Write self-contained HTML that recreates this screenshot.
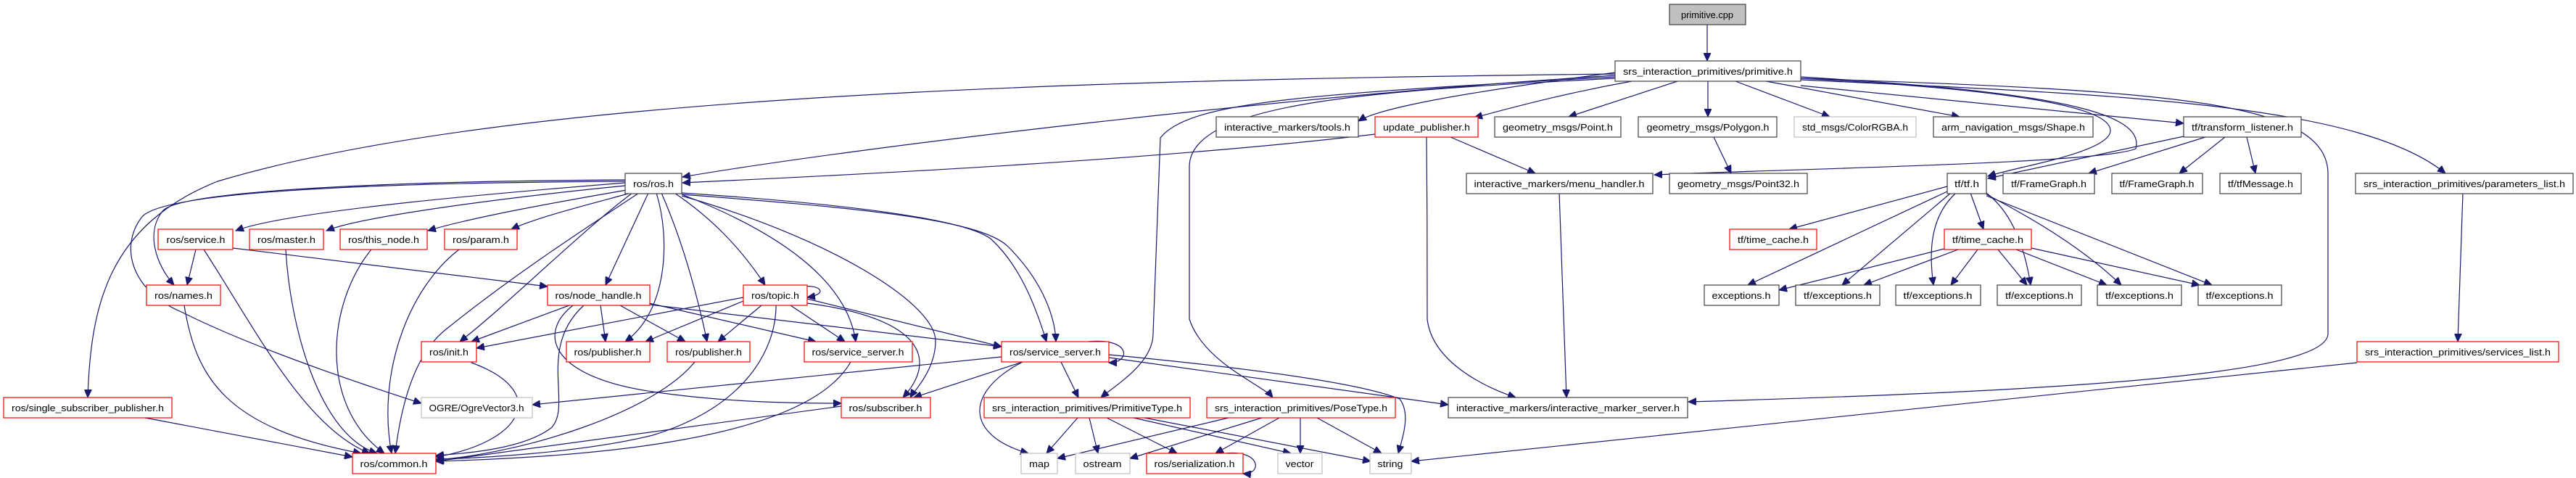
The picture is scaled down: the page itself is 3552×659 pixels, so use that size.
<!DOCTYPE html>
<html><head><meta charset="utf-8"><style>
html,body{margin:0;padding:0;background:#fff;}
svg{display:block;}
text{font-family:"Liberation Sans","DejaVu Sans",sans-serif;font-size:13px;fill:#000;}
.e{fill:none;stroke:#191970;stroke-width:1.2;}
.k{fill:#fff;stroke:#404040;stroke-width:1.2;}
.r{fill:#fff;stroke:#ff0000;stroke-width:1.2;}
.g{fill:#fff;stroke:#bfbfbf;stroke-width:1.2;}
</style></head><body>
<svg width="3552" height="659" viewBox="0 0 3552 659" xmlns="http://www.w3.org/2000/svg">
<defs><marker id="a" markerUnits="userSpaceOnUse" markerWidth="12" markerHeight="10" refX="11" refY="5" orient="auto"><path d="M0,0 L11,5 L0,10 Z" fill="#191970" stroke="#191970"/></marker></defs>
<g class="e" marker-end="url(#a)">
<path d="M2354,34 L2354,84"/>
<path d="M2227,100 C2000,130 1900,150 1873,167"/>
<path d="M2250,112 C2150,130 2080,150 2033,162"/>
<path d="M2313,112 L2163,161"/>
<path d="M2355,112 L2355,161"/>
<path d="M2393,112 L2523,161"/>
<path d="M2435,112 L2702,161"/>
<path d="M2483,118 L3011,170"/>
<path d="M2483,106 C2800,125 2960,150 2945,205 C2900,225 2500,232 2281,241"/>
<path d="M2483,108 C2800,125 2910,150 2910,180 C2910,210 2780,230 2741,243"/>
<path d="M2483,110 C2900,130 3250,140 3372,239"/>
<path d="M2483,108 C3000,125 3210,140 3210,240 L3210,460 C3210,520 2800,540 2328,554"/>
<path d="M2227,104 C1800,130 1200,200 941,244"/>
<path d="M2227,106 C1800,130 1640,140 1600,190 L1590,460 C1590,500 1540,530 1518,548"/>
<path d="M2227,108 C1900,125 1640,140 1640,230 L1640,440 C1660,500 1740,530 1755,548"/>
<path d="M2227,102 C1500,110 700,130 300,250 C150,310 125,420 121,548"/>
<path d="M1896,185 C1600,220 1200,240 941,252"/>
<path d="M2000,189 L2117,239"/>
<path d="M1967,189 C1968,260 1968,400 1968,440 C1975,500 2050,535 2090,548"/>
<path d="M2150,266 L2160,548"/>
<path d="M2363,189 L2387,239"/>
<path d="M3011,188 L2741,246"/>
<path d="M3041,189 L2880,239"/>
<path d="M3068,189 L3005,239"/>
<path d="M3098,189 L3110,239"/>
<path d="M3396,266 L3389,471"/>
<path d="M3250,500 L1946,636"/>
<path d="M2685,257 L2467,316"/>
<path d="M2685,264 L2410,393"/>
<path d="M2690,266 L2540,393"/>
<path d="M2697,266 C2660,300 2660,350 2666,393"/>
<path d="M2717,266 L2735,316"/>
<path d="M2739,266 C2770,290 2790,330 2800,393"/>
<path d="M2739,268 C2820,310 2880,350 2925,393"/>
<path d="M2739,270 L3050,393"/>
<path d="M2681,343 L2453,400"/>
<path d="M2700,344 L2570,393"/>
<path d="M2727,344 L2690,393"/>
<path d="M2755,344 L2795,393"/>
<path d="M2780,344 L2905,393"/>
<path d="M2801,342 L3033,393"/>
<path d="M862,252 C700,265 400,290 325,318"/>
<path d="M862,256 C700,272 500,298 450,318"/>
<path d="M864,262 C760,280 650,300 590,318"/>
<path d="M870,266 C800,285 740,300 705,316"/>
<path d="M862,248 C500,250 250,265 225,290 C200,320 215,365 240,393"/>
<path d="M862,250 C500,252 220,265 195,300 C165,340 180,400 250,430 C350,480 500,530 581,556"/>
<path d="M872,266 C800,320 700,420 634,471"/>
<path d="M881,266 C830,300 720,370 620,450 C600,465 560,500 545,625"/>
<path d="M894,266 L835,393"/>
<path d="M905,266 C925,330 920,430 862,471"/>
<path d="M912,266 C940,330 960,400 975,471"/>
<path d="M930,266 C980,300 1020,340 1055,393"/>
<path d="M940,268 C1100,330 1170,400 1180,471"/>
<path d="M940,270 C1150,330 1290,420 1290,470 C1290,510 1260,540 1255,548"/>
<path d="M940,266 C1150,280 1330,300 1367,330 C1410,370 1430,430 1443,471"/>
<path d="M940,268 C1160,285 1350,300 1390,340 C1440,390 1455,440 1456,471"/>
<path d="M270,344 L258,393"/>
<path d="M281,344 C350,450 420,590 510,625"/>
<path d="M321,342 L755,395"/>
<path d="M394,344 C400,450 440,600 520,625"/>
<path d="M512,344 C450,420 440,560 530,625"/>
<path d="M633,344 C560,400 520,520 540,625"/>
<path d="M254,421 C270,520 310,590 498,625"/>
<path d="M200,576 L486,630"/>
<path d="M650,500 C760,540 720,610 601,630"/>
<path d="M785,421 L650,471"/>
<path d="M828,421 L835,471"/>
<path d="M855,421 L945,471"/>
<path d="M895,418 L1125,471"/>
<path d="M790,421 C740,460 760,520 900,540 C1000,555 1100,556 1160,556"/>
<path d="M805,421 C740,480 790,560 760,590 C720,620 640,625 601,628"/>
<path d="M896,420 L1381,478"/>
<path d="M1025,410 L657,480"/>
<path d="M1025,415 L890,471"/>
<path d="M1050,421 L990,471"/>
<path d="M1090,421 L1165,471"/>
<path d="M1070,421 C1070,480 1030,560 900,600 C800,625 650,632 601,633"/>
<path d="M1113,418 C1280,440 1290,500 1245,548"/>
<path d="M1113,412 L1381,478"/>
<path d="M1100,396 C1130,390 1145,405 1113,410"/>
<path d="M958,499 C900,570 720,625 601,634"/>
<path d="M1173,499 C1110,610 800,630 601,636"/>
<path d="M1160,560 L601,636"/>
<path d="M1381,492 L734,558"/>
<path d="M1410,499 L1260,548"/>
<path d="M1410,499 C1330,540 1330,600 1418,625"/>
<path d="M1463,499 L1487,548"/>
<path d="M1529,489 C1750,510 1880,530 1930,550 C1945,570 1935,600 1928,625"/>
<path d="M1529,493 L1997,558"/>
<path d="M1500,471 C1560,465 1560,500 1529,500"/>
<path d="M1486,576 L1443,625"/>
<path d="M1502,576 L1514,625"/>
<path d="M1526,576 L1623,625"/>
<path d="M1563,576 L1780,625"/>
<path d="M1578,576 L1890,636"/>
<path d="M1694,576 L1458,632"/>
<path d="M1740,576 L1558,632"/>
<path d="M1764,576 L1676,625"/>
<path d="M1793,576 L1793,625"/>
<path d="M1816,576 L1905,625"/>
<path d="M1690,625 C1740,620 1740,655 1714,653"/>
</g>
<g>
<rect x="2302" y="6" width="105" height="28" fill="#bfbfbf" stroke="#404040" stroke-width="1.2"/>
<rect class="k" x="2227" y="84" width="256" height="28"/>
<rect class="k" x="1677" y="161" width="196" height="28"/>
<rect class="r" x="1896" y="161" width="142" height="28"/>
<rect class="k" x="2061" y="161" width="174" height="28"/>
<rect class="k" x="2259" y="161" width="191" height="28"/>
<rect class="g" x="2474" y="161" width="168" height="28"/>
<rect class="k" x="2666" y="161" width="220" height="28"/>
<rect class="k" x="3011" y="161" width="162" height="28"/>
<rect class="k" x="862" y="239" width="78" height="28"/>
<rect class="k" x="2022" y="239" width="257" height="28"/>
<rect class="k" x="2302" y="239" width="190" height="28"/>
<rect class="k" x="2685" y="239" width="54" height="28"/>
<rect class="k" x="2762" y="239" width="126" height="28"/>
<rect class="k" x="2912" y="239" width="125" height="28"/>
<rect class="k" x="3061" y="239" width="112" height="28"/>
<rect class="k" x="3248" y="239" width="300" height="28"/>
<rect class="r" x="218" y="316" width="103" height="28"/>
<rect class="r" x="344" y="316" width="102" height="28"/>
<rect class="r" x="469" y="316" width="120" height="28"/>
<rect class="r" x="613" y="316" width="100" height="28"/>
<rect class="r" x="2385" y="316" width="120" height="28"/>
<rect class="r" x="2681" y="316" width="120" height="28"/>
<rect class="r" x="202" y="393" width="102" height="28"/>
<rect class="r" x="755" y="393" width="141" height="28"/>
<rect class="r" x="1025" y="393" width="88" height="28"/>
<rect class="k" x="2350" y="393" width="103" height="28"/>
<rect class="k" x="2476" y="393" width="116" height="28"/>
<rect class="k" x="2614" y="393" width="117" height="28"/>
<rect class="k" x="2754" y="393" width="116" height="28"/>
<rect class="k" x="2892" y="393" width="116" height="28"/>
<rect class="k" x="3031" y="393" width="115" height="28"/>
<rect class="r" x="581" y="471" width="76" height="28"/>
<rect class="r" x="781" y="471" width="115" height="28"/>
<rect class="r" x="920" y="471" width="114" height="28"/>
<rect class="r" x="1109" y="471" width="149" height="28"/>
<rect class="r" x="1381" y="471" width="148" height="28"/>
<rect class="r" x="3250" y="471" width="278" height="28"/>
<rect class="r" x="5" y="548" width="232" height="28"/>
<rect class="g" x="581" y="548" width="153" height="28"/>
<rect class="r" x="1160" y="548" width="123" height="28"/>
<rect class="r" x="1357" y="548" width="284" height="28"/>
<rect class="r" x="1664" y="548" width="260" height="28"/>
<rect class="k" x="1997" y="548" width="330" height="28"/>
<rect class="r" x="486" y="625" width="115" height="28"/>
<rect class="g" x="1408" y="625" width="50" height="28"/>
<rect class="g" x="1483" y="625" width="75" height="28"/>
<rect class="r" x="1581" y="625" width="133" height="28"/>
<rect class="g" x="1762" y="625" width="61" height="28"/>
<rect class="g" x="1889" y="625" width="57" height="28"/>
</g>
<g text-anchor="middle" lengthAdjust="spacingAndGlyphs">
<text x="2354" y="25" textLength="72" lengthAdjust="spacingAndGlyphs">primitive.cpp</text>
<text x="2355" y="103" textLength="234" lengthAdjust="spacingAndGlyphs">srs_interaction_primitives/primitive.h</text>
<text x="1775" y="180" textLength="174" lengthAdjust="spacingAndGlyphs">interactive_markers/tools.h</text>
<text x="1967" y="180" textLength="120" lengthAdjust="spacingAndGlyphs">update_publisher.h</text>
<text x="2148" y="180" textLength="152" lengthAdjust="spacingAndGlyphs">geometry_msgs/Point.h</text>
<text x="2355" y="180" textLength="169" lengthAdjust="spacingAndGlyphs">geometry_msgs/Polygon.h</text>
<text x="2558" y="180" textLength="146" lengthAdjust="spacingAndGlyphs">std_msgs/ColorRGBA.h</text>
<text x="2776" y="180" textLength="198" lengthAdjust="spacingAndGlyphs">arm_navigation_msgs/Shape.h</text>
<text x="3092" y="180" textLength="140" lengthAdjust="spacingAndGlyphs">tf/transform_listener.h</text>
<text x="901" y="258" textLength="56" lengthAdjust="spacingAndGlyphs">ros/ros.h</text>
<text x="2150" y="258" textLength="235" lengthAdjust="spacingAndGlyphs">interactive_markers/menu_handler.h</text>
<text x="2397" y="258" textLength="168" lengthAdjust="spacingAndGlyphs">geometry_msgs/Point32.h</text>
<text x="2712" y="258" textLength="34" lengthAdjust="spacingAndGlyphs">tf/tf.h</text>
<text x="2825" y="258" textLength="104" lengthAdjust="spacingAndGlyphs">tf/FrameGraph.h</text>
<text x="2974" y="258" textLength="103" lengthAdjust="spacingAndGlyphs">tf/FrameGraph.h</text>
<text x="3117" y="258" textLength="90" lengthAdjust="spacingAndGlyphs">tf/tfMessage.h</text>
<text x="3398" y="258" textLength="278" lengthAdjust="spacingAndGlyphs">srs_interaction_primitives/parameters_list.h</text>
<text x="270" y="335" textLength="81" lengthAdjust="spacingAndGlyphs">ros/service.h</text>
<text x="395" y="335" textLength="80" lengthAdjust="spacingAndGlyphs">ros/master.h</text>
<text x="529" y="335" textLength="98" lengthAdjust="spacingAndGlyphs">ros/this_node.h</text>
<text x="663" y="335" textLength="78" lengthAdjust="spacingAndGlyphs">ros/param.h</text>
<text x="2445" y="335" textLength="98" lengthAdjust="spacingAndGlyphs">tf/time_cache.h</text>
<text x="2741" y="335" textLength="98" lengthAdjust="spacingAndGlyphs">tf/time_cache.h</text>
<text x="253" y="412" textLength="80" lengthAdjust="spacingAndGlyphs">ros/names.h</text>
<text x="825" y="412" textLength="119" lengthAdjust="spacingAndGlyphs">ros/node_handle.h</text>
<text x="1069" y="412" textLength="66" lengthAdjust="spacingAndGlyphs">ros/topic.h</text>
<text x="2401" y="412" textLength="81" lengthAdjust="spacingAndGlyphs">exceptions.h</text>
<text x="2534" y="412" textLength="94" lengthAdjust="spacingAndGlyphs">tf/exceptions.h</text>
<text x="2672" y="412" textLength="95" lengthAdjust="spacingAndGlyphs">tf/exceptions.h</text>
<text x="2812" y="412" textLength="94" lengthAdjust="spacingAndGlyphs">tf/exceptions.h</text>
<text x="2950" y="412" textLength="94" lengthAdjust="spacingAndGlyphs">tf/exceptions.h</text>
<text x="3088" y="412" textLength="93" lengthAdjust="spacingAndGlyphs">tf/exceptions.h</text>
<text x="619" y="490" textLength="54" lengthAdjust="spacingAndGlyphs">ros/init.h</text>
<text x="838" y="490" textLength="93" lengthAdjust="spacingAndGlyphs">ros/publisher.h</text>
<text x="977" y="490" textLength="92" lengthAdjust="spacingAndGlyphs">ros/publisher.h</text>
<text x="1183" y="490" textLength="127" lengthAdjust="spacingAndGlyphs">ros/service_server.h</text>
<text x="1455" y="490" textLength="126" lengthAdjust="spacingAndGlyphs">ros/service_server.h</text>
<text x="3389" y="490" textLength="256" lengthAdjust="spacingAndGlyphs">srs_interaction_primitives/services_list.h</text>
<text x="121" y="567" textLength="210" lengthAdjust="spacingAndGlyphs">ros/single_subscriber_publisher.h</text>
<text x="657" y="567" textLength="131" lengthAdjust="spacingAndGlyphs">OGRE/OgreVector3.h</text>
<text x="1221" y="567" textLength="101" lengthAdjust="spacingAndGlyphs">ros/subscriber.h</text>
<text x="1499" y="567" textLength="262" lengthAdjust="spacingAndGlyphs">srs_interaction_primitives/PrimitiveType.h</text>
<text x="1794" y="567" textLength="238" lengthAdjust="spacingAndGlyphs">srs_interaction_primitives/PoseType.h</text>
<text x="2162" y="567" textLength="308" lengthAdjust="spacingAndGlyphs">interactive_markers/interactive_marker_server.h</text>
<text x="543" y="644" textLength="93" lengthAdjust="spacingAndGlyphs">ros/common.h</text>
<text x="1433" y="644" textLength="28" lengthAdjust="spacingAndGlyphs">map</text>
<text x="1520" y="644" textLength="53" lengthAdjust="spacingAndGlyphs">ostream</text>
<text x="1647" y="644" textLength="111" lengthAdjust="spacingAndGlyphs">ros/serialization.h</text>
<text x="1792" y="644" textLength="39" lengthAdjust="spacingAndGlyphs">vector</text>
<text x="1917" y="644" textLength="35" lengthAdjust="spacingAndGlyphs">string</text>
</g>
</svg>
</body></html>
